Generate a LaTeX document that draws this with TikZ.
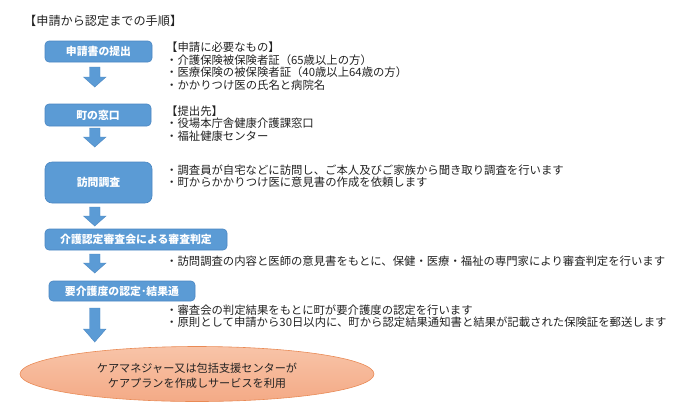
\documentclass[tikz,border=0pt]{standalone}
\usepackage{fontspec}
\setmainfont{Noto Sans CJK JP}
\definecolor{boxblue}{HTML}{5B9BD5}
\definecolor{boxedge}{HTML}{4A86C2}
\definecolor{txt}{HTML}{222222}
\definecolor{ellfillA}{HTML}{F8C4A8}
\definecolor{ellfillB}{HTML}{F4AA86}
\definecolor{elledge}{HTML}{E98A55}
\tikzset{
  stepbox/.style={draw=boxedge, line width=0.6pt, fill=boxblue, rounded corners=4bp},
  boxtext/.style={text=white, font=\fontsize{10.9}{12}\selectfont\bfseries},
  note/.style={anchor=west, inner sep=0pt, text=txt, font=\fontsize{11.4}{12.5}\selectfont},
  arr/.style={fill=boxblue, draw=boxedge, line width=0.4pt},
}
\newcommand\dnarr[3]{\draw[arr] (89.5,#1) -- (100,#1) -- (100,#2-#3) -- (106,#2-#3) -- (94.75,#2) -- (83.5,#2-#3) -- (89.5,#2-#3) -- cycle;}
\begin{document}
\begin{tikzpicture}[x=1bp, y=-1bp]
\useasboundingbox (0,0) rectangle (679,414);
% title
\node[note, font=\fontsize{12.2}{13}\selectfont] (title) at (24,21) {【申請から認定までの手順】};
% boxes
\draw[stepbox] (45,41) rectangle (152,62);
\node[boxtext] (b1) at (98.5,51.5) {申請書の提出};
\draw[stepbox] (45,104) rectangle (151,126);
\node[boxtext] (b2) at (98,115) {町の窓口};
\draw[stepbox, rounded corners=7bp] (45,162) rectangle (152,203);
\node[boxtext] (b3) at (98.5,182.5) {訪問調査};
\draw[stepbox] (45,229) rectangle (227,250);
\node[boxtext] (b4) at (136,239.5) {介護認定審査会による審査判定};
\draw[stepbox] (49,281) rectangle (195,301);
\node[boxtext] (b5) at (122,291) {要介護度の認定･結果通};
% arrows
\dnarr{67}{87}{10}
\dnarr{128}{147}{10}
\dnarr{207}{226}{10}
\dnarr{254}{273}{10}
\dnarr{308}{342}{13}
% notes
\node[note] (n1a) at (166,47.5) {【申請に必要なもの】};
\node[note] (n1b) at (166,60) {・介護保険被保険者証（65歳以上の方）};
\node[note] (n1c) at (166,72.5) {・医療保険の被保険者証（40歳以上64歳の方）};
\node[note] (n1d) at (166,85) {・かかりつけ医の氏名と病院名};
\node[note] (n2a) at (166,111) {【提出先】};
\node[note] (n2b) at (166,123.5) {・役場本庁舎健康介護課窓口};
\node[note] (n2c) at (166,136) {・福祉健康センター};
\node[note] (n3a) at (166,170) {・調査員が自宅などに訪問し、ご本人及びご家族から聞き取り調査を行います};
\node[note] (n3b) at (166,182.5) {・町からかかりつけ医に意見書の作成を依頼します};
\node[note] (n4a) at (166,261.5) {・訪問調査の内容と医師の意見書をもとに、保健・医療・福祉の専門家により審査判定を行います};
\node[note] (n5a) at (166,310) {・審査会の判定結果をもとに町が要介護度の認定を行います};
\node[note] (n5b) at (166,322.5) {・原則として申請から30日以内に、町から認定結果通知書と結果が記載された保険証を郵送します};
% ellipse
\path[top color=ellfillA, bottom color=ellfillB, draw=elledge, line width=0.6pt] (197,374) ellipse [x radius=177, y radius=27.5];
\node[text=txt, align=center, font=\fontsize{11.2}{15}\selectfont] (ell) at (197,375.5) {ケアマネジャー又は包括支援センターが\\ケアプランを作成しサービスを利用};
\end{tikzpicture}
\end{document}
